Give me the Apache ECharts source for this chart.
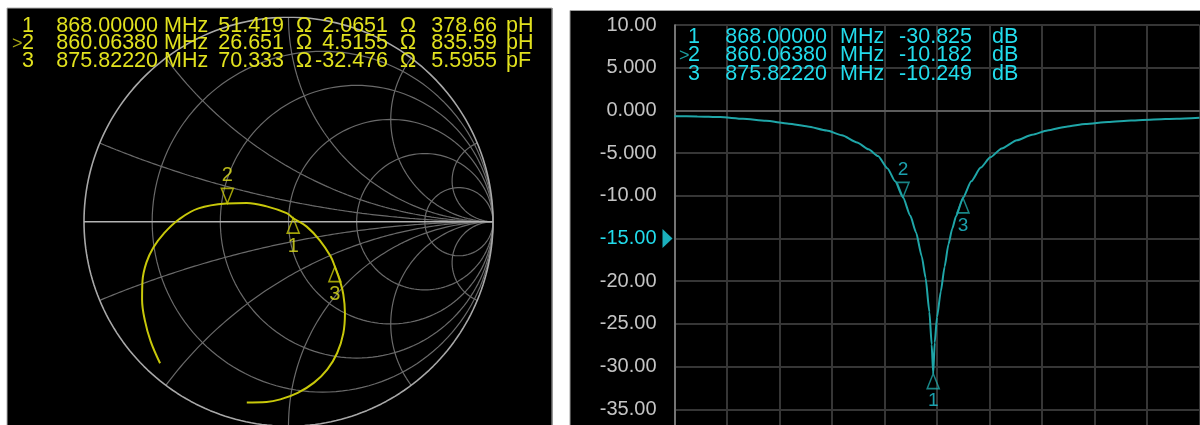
<!DOCTYPE html>
<html>
<head>
<meta charset="utf-8">
<script src="https://cdn.jsdelivr.net/npm/echarts@6/dist/echarts.min.js"></script>
<style>
  html, body { margin: 0; padding: 0; background: #fff; }
  #main { width: 1200px; height: 425px; }
</style>
</head>
<body>
<div id="main"></div>
<script>
// marker readouts (text as shown on the instrument)
var markerIds = ['1', '2', '3'];
var markerFreqText = ['868.00000', '860.06380', '875.82220'];
var markerReText = ['51.419', '26.651', '70.333'];
var markerImText = ['2.0651', '4.5155', '-32.476'];
var markerEqText = ['378.66', '835.59', '5.5955'];
var markerEqUnit = ['pH', 'pH', 'pF'];
var markerDbText = ['-30.825', '-10.182', '-10.249'];

// marker positions
var markerFreq = [868.0, 860.0638, 875.8222];
var markerDb = [-30.825, -10.182, -10.249];
var smithMarkerRe = [0.023, -0.299, 0.227];
var smithMarkerIm = [0.017, 0.090, -0.220];

// S11 log magnitude trace (MHz, dB)
var traceFreq = [800, 806, 812, 818, 824, 830, 835, 840, 844, 848, 851, 853.5, 856, 858, 860.06,
  862, 863.5, 865, 866, 867, 867.6, 868, 868.4, 869, 870, 871, 872, 873, 874, 875.82,
  878, 880.5, 883, 886, 890, 894, 898, 903, 908, 914, 920, 926, 932, 938];
var traceDb = [-0.69, -0.70, -0.78, -0.98, -1.22, -1.55, -1.88, -2.35, -2.9, -3.75, -4.55, -5.35, -6.8, -8.3, -10.18,
  -12.35, -14.3, -17.1, -19.6, -23.6, -27.4, -30.83, -27.2, -24.2, -21.2, -18.3, -15.7, -13.85, -12.4, -10.25,
  -8.3, -6.7, -5.5, -4.45, -3.5, -2.85, -2.35, -1.9, -1.6, -1.35, -1.18, -1.06, -0.97, -0.85];

// Smith chart trace, reflection coefficient (re, im)
var smithRe = [-0.628, -0.674, -0.703, -0.716, -0.714, -0.695, -0.660, -0.610, -0.535, -0.440,
  -0.299, -0.204, -0.107, -0.009, 0.023, 0.089, 0.154, 0.205, 0.227, 0.250, 0.268, 0.276,
  0.268, 0.238, 0.190, 0.125, 0.045, -0.040, -0.107, -0.204];
var smithIm = [-0.692, -0.585, -0.480, -0.380, -0.290, -0.200, -0.125, -0.058, 0.012, 0.065,
  0.089, 0.092, 0.075, 0.042, 0.017, -0.024, -0.092, -0.168, -0.220, -0.285, -0.355, -0.448,
  -0.546, -0.642, -0.722, -0.787, -0.837, -0.869, -0.882, -0.884];

// Smith chart graticule values
var gridR = [0.2, 0.5, 1, 2, 5];
var gridX = [0.2, 0.5, 1, 2, 5];

var FONT = '"Liberation Sans", Arial, sans-serif';
var YELLOW = '#e2e21e';
var YTRACE = '#c8c80a';
var CYAN = '#22dcec';
var CTRACE = '#1fa6a8';

function zip(a, b) {
    return a.map(function (v, i) { return [v, b[i]]; });
}

// arc points for the graticule
function arc(cx, cy, R, a0, a1, n) {
    var pts = [];
    for (var i = 0; i <= n; i++) {
        var a = a0 + (a1 - a0) * i / n;
        pts.push([cx + R * Math.cos(a), cy + R * Math.sin(a)]);
    }
    return pts;
}

function gratLine(pts, color, width) {
    return {
        type: 'line', xAxisIndex: 0, yAxisIndex: 0, data: pts, symbol: 'none',
        silent: true, lineStyle: { color: color, width: width }, z: 1
    };
}

var series = [];
gridR.forEach(function (r) {
    series.push(gratLine(arc(r / (1 + r), 0, 1 / (1 + r), 0, Math.PI * 2, 160), '#6a6a6a', 1.2));
});
gridX.forEach(function (x) {
    var px = (x * x - 1) / (x * x + 1), py = 2 * x / (x * x + 1);
    var a0 = -Math.PI / 2;
    var a1 = Math.atan2(py - 1 / x, px - 1);
    if (a1 > a0) a1 -= Math.PI * 2;
    var up = arc(1, 1 / x, 1 / x, a0, a1, 160);
    series.push(gratLine(up, '#6a6a6a', 1.2));
    series.push(gratLine(up.map(function (p) { return [p[0], -p[1]]; }), '#6a6a6a', 1.2));
});
series.push(gratLine(arc(0, 0, 1, 0, Math.PI * 2, 240), '#a8a8a8', 1.6));
series.push(gratLine([[-1, 0], [1, 0]], '#b4b4b4', 1.6));

// Smith trace
series.push({
    type: 'line', xAxisIndex: 0, yAxisIndex: 0, data: zip(smithRe, smithIm),
    symbol: 'none', smooth: 0.4, lineStyle: { color: YTRACE, width: 2 }, z: 3
});

var TRI_DOWN = 'path://M0,0 L12,0 L6,15 Z';
var TRI_UP = 'path://M6,0 L12,15 L0,15 Z';

function markerSeries(xi, yi, pts, color, labelColor, size) {
    return {
        type: 'scatter', xAxisIndex: xi, yAxisIndex: yi, clip: false, z: 5,
        data: pts.map(function (p, i) {
            var down = markerIds[i] === '2';
            return {
                value: p,
                symbol: down ? TRI_DOWN : TRI_UP,
                symbolSize: [12, 15],
                symbolOffset: [0, down ? -7.5 : 7.5],
                label: {
                    show: true, formatter: markerIds[i], position: down ? 'top' : 'bottom',
                    distance: 2, color: labelColor, fontSize: size, fontFamily: FONT
                }
            };
        }),
        itemStyle: { color: 'rgba(0,0,0,0)', borderColor: color, borderWidth: 1.6 }
    };
}

series.push(markerSeries(0, 0, zip(smithMarkerRe, smithMarkerIm), YTRACE, YELLOW, 20));

// log magnitude trace
series.push({
    type: 'line', xAxisIndex: 2, yAxisIndex: 1, data: zip(traceFreq, traceDb),
    symbol: 'none', smooth: 0.2, smoothMonotone: 'x',
    lineStyle: { color: CTRACE, width: 2 }, z: 3
});
series.push(markerSeries(2, 1, zip(markerFreq, markerDb), CTRACE, '#22c8d8', 19));

// reference level pointer at -15 dB
series.push({
    type: 'scatter', xAxisIndex: 2, yAxisIndex: 1, clip: false, silent: true, z: 5,
    data: [[800, -15]], symbol: 'path://M0,0 L10,9.5 L0,19 Z', symbolSize: [10, 19],
    symbolOffset: [-7, 0], itemStyle: { color: CYAN }
});

function txt(s, x, y, color, align, size) {
    return {
        type: 'text', x: x, y: y, z: 10,
        style: {
            text: s, fill: color, font: (size || 21.5) + 'px ' + FONT,
            textAlign: align, align: align, textVerticalAlign: 'middle', verticalAlign: 'middle'
        }
    };
}

var texts = [
    // white gaps between the two instrument panels
    { type: 'rect', shape: { x: 0, y: 0, width: 1200, height: 8 }, style: { fill: '#fff' } },
    { type: 'rect', shape: { x: 570, y: 0, width: 630, height: 10.5 }, style: { fill: '#fff' } },
    { type: 'rect', shape: { x: 0, y: 0, width: 7, height: 425 }, style: { fill: '#fff' } },
    { type: 'rect', shape: { x: 552.5, y: 0, width: 17.5, height: 425 }, style: { fill: '#fff' } },
    { type: 'polyline', shape: { points: [[7, 425], [7, 8], [552, 8], [552, 425]] },
      style: { stroke: '#b0b0b0', fill: null, lineWidth: 1 } },
    { type: 'polyline', shape: { points: [[570, 425], [570, 10.5], [1200, 10.5]] },
      style: { stroke: '#a0a0a0', fill: null, lineWidth: 1 } }
];

var rowsL = [26, 43.5, 61];
var rowsR = [37, 55.5, 74];
markerIds.forEach(function (id, i) {
    var yl = rowsL[i], yr = rowsR[i];
    texts.push(txt(id, 34, yl, YELLOW, 'right'));
    texts.push(txt(markerFreqText[i], 158, yl, YELLOW, 'right'));
    texts.push(txt('MHz', 164, yl, YELLOW, 'left'));
    texts.push(txt(markerReText[i], 284, yl, YELLOW, 'right'));
    texts.push(txt('Ω', 296, yl, YELLOW, 'left'));
    texts.push(txt(markerImText[i], 388, yl, YELLOW, 'right'));
    texts.push(txt('Ω', 400, yl, YELLOW, 'left'));
    texts.push(txt(markerEqText[i], 497, yl, YELLOW, 'right'));
    texts.push(txt(markerEqUnit[i], 506, yl, YELLOW, 'left'));

    texts.push(txt(id, 700, yr, CYAN, 'right'));
    texts.push(txt(markerFreqText[i], 827, yr, CYAN, 'right'));
    texts.push(txt('MHz', 840, yr, CYAN, 'left'));
    texts.push(txt(markerDbText[i], 972, yr, CYAN, 'right'));
    texts.push(txt('dB', 992, yr, CYAN, 'left'));

    if (id === '2') {
        texts.push(txt('>', 12, yl + 1, '#a8a814', 'left', 18));
        texts.push(txt('>', 679, yr + 1, '#1c9ea0', 'left', 18));
    }
});

var myChart = echarts.init(document.getElementById('main'));

var option = {
    backgroundColor: '#000',
    animation: false,
    grid: [
        { left: 84, top: 17.2, width: 409, height: 409, outerBoundsMode: 'none', containLabel: false },
        { left: 674.5, top: 25, width: 525, height: 427, outerBoundsMode: 'none', containLabel: false }
    ],
    xAxis: [
        { gridIndex: 0, type: 'value', min: -1, max: 1, show: false },
        {
            gridIndex: 1, type: 'value', min: 0, max: 10, interval: 1, position: 'top',
            axisLine: { show: true, lineStyle: { color: '#6a6a6a', width: 1.5 } },
            axisTick: { show: false }, axisLabel: { show: false },
            splitLine: { show: true, lineStyle: { color: '#363636', width: 2 } }
        },
        { gridIndex: 1, type: 'value', min: 800, max: 938, show: false }
    ],
    yAxis: [
        { gridIndex: 0, type: 'value', min: -1, max: 1, show: false },
        {
            gridIndex: 1, type: 'value', min: -40, max: 10, interval: 5,
            axisLine: { show: true, lineStyle: { color: '#8a8a8a', width: 1.5 } },
            axisTick: { show: false },
            splitLine: { show: true, lineStyle: { color: '#363636', width: 2 } },
            axisLabel: {
                margin: 18, fontSize: 20, fontFamily: FONT,
                color: function (v) { return Number(v) === -15 ? CYAN : '#c4c4c4'; },
                formatter: function (v) { return Math.abs(v) >= 10 ? v.toFixed(2) : v.toFixed(3); }
            }
        }
    ],
    graphic: { elements: texts },
    series: series
};

myChart.setOption(option);
</script>
</body>
</html>
